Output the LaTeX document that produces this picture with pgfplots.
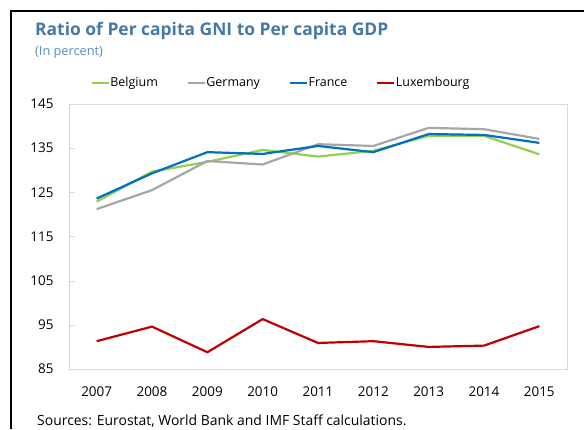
\documentclass[border=0pt]{standalone}
\usepackage{pgfplots}
\pgfplotsset{compat=1.18}
\usepackage{fontspec}
\setmainfont{Open Sans}
\definecolor{cgreen}{RGB}{146,208,80}
\definecolor{cgray}{RGB}{166,166,166}
\definecolor{cblue}{RGB}{0,112,192}
\definecolor{cred}{RGB}{192,0,0}
\definecolor{ctitle}{RGB}{70,120,168}
\definecolor{csub}{RGB}{90,140,190}
\definecolor{cframe}{RGB}{217,217,217}
\begin{document}
\begin{tikzpicture}[x=1bp,y=1bp]
\clip (0,0) rectangle (584,-429);
\fill[white] (0,0) rectangle (584,-429);
\draw[black,line width=2bp] (11,-429) -- (11,-11) -- (584,-11);
\node[anchor=base west,inner sep=0pt,text=ctitle,font=\fontsize{17.5}{20}\selectfont\bfseries] at (35,-35) {Ratio of Per capita GNI to Per capita GDP};
\node[anchor=base west,inner sep=0pt,text=csub,font=\fontsize{12.8}{15}\selectfont] at (35,-55) {(In percent)};
\node[anchor=base west,inner sep=0pt,font=\fontsize{14}{16}\selectfont] at (37,-425) {Sources: Eurostat, World Bank and IMF Staff calculations.};
\begin{axis}[
  at={(69bp,-369bp)}, anchor=south west,
  width=498bp, height=265bp, scale only axis,
  xmin=2006.5, xmax=2015.5, ymin=85, ymax=145,
  xtick={2007,...,2015},
  extra x ticks={2007.5,2008.5,...,2014.5},
  extra x tick labels={},
  extra x tick style={major tick length=5bp, tick style={cframe}},
  ytick={85,95,...,145},
  xtick pos=bottom, ytick pos=left,
  xticklabel style={/pgf/number format/1000 sep={}},
  x tick label style={font=\fontsize{13.5}{15}\selectfont, yshift=-14bp},
  y tick label style={font=\fontsize{13.5}{15}\selectfont, xshift=-12bp},
  /pgf/number format/assume math mode=true,
  /pgf/number format/1000 sep={},
  axis line style={cframe},
  x tick style={draw=none},
  y tick style={cframe},
  major tick length=6bp,
  tick align=inside,
  clip=false,
  legend style={at={(0.425,1.08)}, anchor=center, draw=none, fill=none,
    legend columns=4, font=\fontsize{12.5}{15}\selectfont,
    nodes={inner xsep=1bp},
    /tikz/every even column/.append style={column sep=28bp},
    inner sep=0pt},
  legend cell align=left,
  legend image code/.code={\draw[#1,line width=1.6bp] (0bp,0bp) -- (17bp,0bp);},
  every axis plot/.append style={line width=2.2bp},
]
\addplot[cgreen] coordinates {(2007,122.9) (2008,129.7) (2009,131.9) (2010,134.6) (2011,133.1) (2012,134.4) (2013,137.8) (2014,137.8) (2015,133.6)};
\addlegendentry{Belgium}
\addplot[cgray] coordinates {(2007,121.2) (2008,125.5) (2009,132.1) (2010,131.3) (2011,135.9) (2012,135.5) (2013,139.6) (2014,139.3) (2015,137.1)};
\addlegendentry{Germany}
\addplot[cblue] coordinates {(2007,123.6) (2008,129.3) (2009,134.1) (2010,133.7) (2011,135.5) (2012,134.1) (2013,138.2) (2014,138.0) (2015,136.2)};
\addlegendentry{France}
\addplot[cred] coordinates {(2007,91.3) (2008,94.6) (2009,88.8) (2010,96.3) (2011,90.9) (2012,91.3) (2013,90.0) (2014,90.3) (2015,94.7)};
\addlegendentry{Luxembourg}
\end{axis}
\end{tikzpicture}
\end{document}
